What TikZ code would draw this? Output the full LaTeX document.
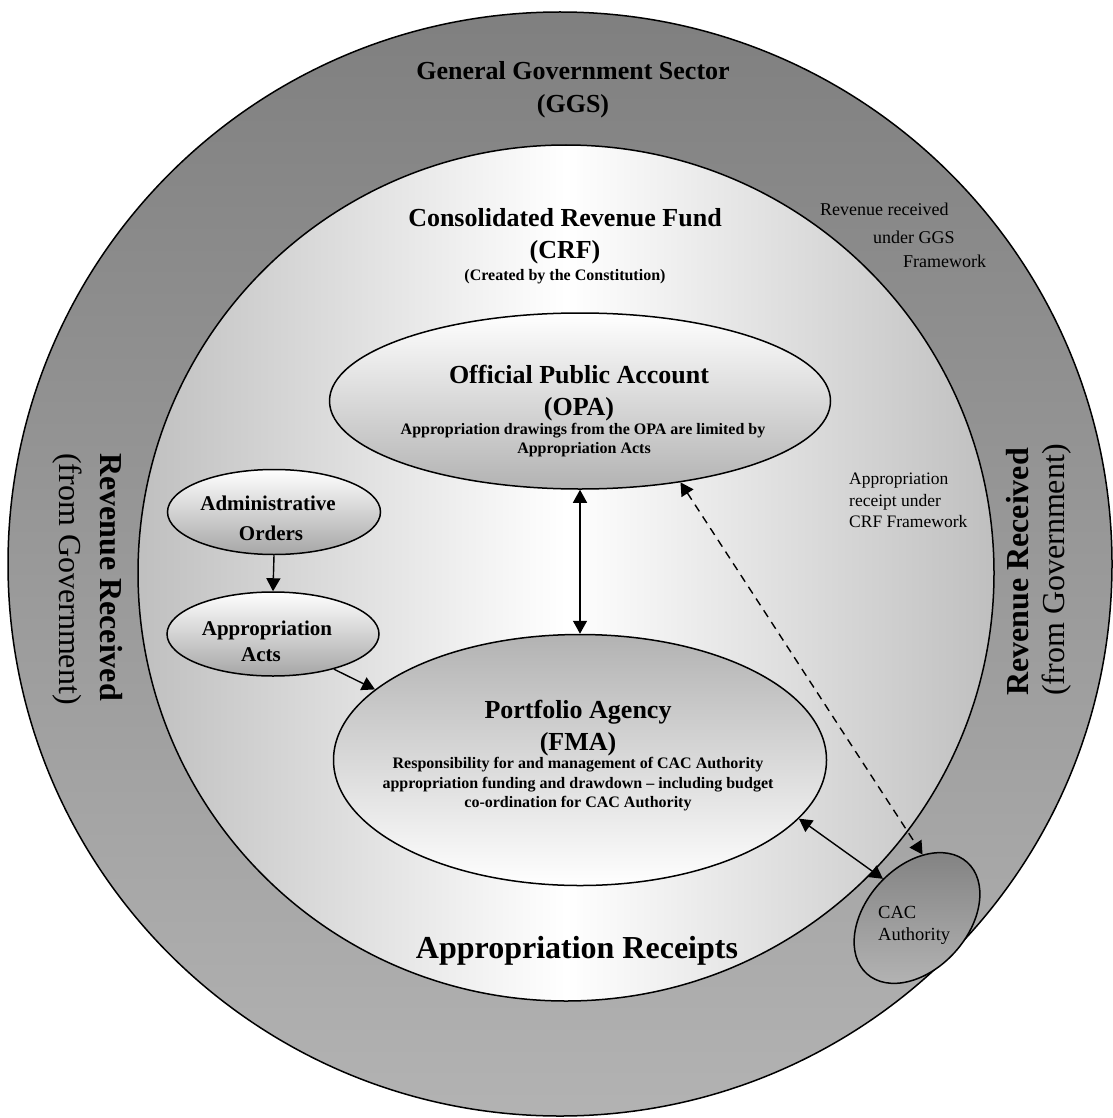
\documentclass[tikz,border=0pt]{standalone}
\usepackage{fontspec}
\setmainfont{Liberation Serif}
\usetikzlibrary{shapes.geometric,arrows.meta}
\begin{document}
\begin{tikzpicture}[x=1pt,y=-1pt,
  outline/.style={draw=black, line width=1.5pt},
  arr/.style={line width=1.4pt, -{Triangle[length=13pt,width=14pt]}},
  darr/.style={line width=1.4pt, {Triangle[length=13pt,width=14pt]}-{Triangle[length=13pt,width=14pt]}},
  oval/.style={ellipse, outline, inner sep=0pt},
  lbl/.style={inner sep=0pt, text=black, anchor=base},
  lblw/.style={inner sep=0pt, text=black, anchor=base west},
  hA/.style={font=\fontsize{26}{30}\selectfont\bfseries},
  hB/.style={font=\fontsize{16}{19}\selectfont\bfseries},
  hC/.style={font=\fontsize{21}{25}\selectfont\bfseries},
  hD/.style={font=\fontsize{32}{36}\selectfont\bfseries},
  rD/.style={font=\fontsize{32}{36}\selectfont},
  sm/.style={font=\fontsize{18}{22}\selectfont},
]
\useasboundingbox[fill=white] (0,0) rectangle (1112,1118);

% sectors
\node[circle, outline, minimum size=1104pt, inner sep=0pt, top color=gray, bottom color=gray!60] (ggs) at (560,564) {};
\node[circle, outline, minimum size=856pt, inner sep=0pt, left color=gray!50, right color=gray!50, middle color=white] (crf) at (566,573) {};

% ovals
\node[oval, minimum width=501pt, minimum height=176pt, top color=white, bottom color=gray!60] (opa) at (580,401) {};
\node[oval, minimum width=493pt, minimum height=251pt, top color=gray!60, bottom color=white] (fma) at (580,760) {};
\node[oval, minimum width=213pt, minimum height=85pt, top color=white, bottom color=gray!70] (admin) at (274,512) {};
\node[oval, minimum width=212pt, minimum height=84pt, top color=white, bottom color=gray!70] (acts) at (273,634) {};
\node[oval, minimum width=150pt, minimum height=102pt, rotate=48, top color=gray!100, bottom color=gray!60] (cac) at (917,918) {};

% texts: GGS
\node[lbl, hA] (t1) at (573,79.6) {General Government Sector};
\node[lbl, hA] (t2) at (573,112.6) {(GGS)};
% CRF
\node[lbl, hA] (t3) at (565,226.6) {Consolidated Revenue Fund};
\node[lbl, hA] (t4) at (565,258.6) {(CRF)};
\node[lbl, hB] (t5) at (565,280.3) {(Created by the Constitution)};
% OPA
\node[lbl, hA] (t6) at (579,383.6) {Official Public Account};
\node[lbl, hA] (t7) at (579,415.6) {(OPA)};
\node[lbl, hB] (t8) at (583,434.3) {Appropriation drawings from the OPA are limited by};
\node[lbl, hB] (t9) at (584,453.3) {Appropriation Acts};
% FMA
\node[lbl, hA] (t10) at (578,718.6) {Portfolio Agency};
\node[lbl, hA] (t11) at (578,750.6) {(FMA)};
\node[lbl, hB] (t12) at (578,768.3) {Responsibility for and management of CAC Authority};
\node[lbl, hB] (t13) at (578,788.3) {appropriation funding and drawdown -- including budget};
\node[lbl, hB] (t14) at (578,807.3) {co-ordination for CAC Authority};
% admin / acts
\node[lbl, hC] (t15) at (268,510.5) {Administrative};
\node[lbl, hC] (t16) at (271,540) {Orders};
\node[lbl, hC] (t17) at (267,635.5) {Appropriation};
\node[lbl, hC] (t18) at (261,661.5) {Acts};
% receipts
\node[lbl, hD] (t19) at (577,958.6) {Appropriation Receipts};
% side texts
\node[inner sep=0pt, hD, rotate=-90] (t20) at (111,577) {Revenue Received};
\node[inner sep=0pt, rD, rotate=-90] (t21) at (67,579) {(from Government)};
\node[inner sep=0pt, hD, rotate=90] (t22) at (1018,572) {Revenue Received};
\node[inner sep=0pt, rD, rotate=90] (t23) at (1057,570) {(from Government)};
% small labels
\node[lblw, sm] (t24) at (820,215) {Revenue received};
\node[lblw, sm] (t25) at (873,243) {under GGS};
\node[lblw, sm] (t26) at (903,267) {Framework};
\node[lblw, font=\fontsize{17.5}{21}\selectfont] (t27) at (849,484) {Appropriation};
\node[lblw, font=\fontsize{17.5}{21}\selectfont] (t28) at (849,506) {receipt under};
\node[lblw, font=\fontsize{17.5}{21}\selectfont] (t29) at (849,527) {CRF Framework};
\node[lblw, font=\fontsize{18.5}{22}\selectfont] (t30) at (878,918) {CAC};
\node[lblw, font=\fontsize{18.5}{22}\selectfont] (t31) at (878,940) {Authority};

% connectors
\draw[arr] (admin.south) -- (acts.north);
\draw[arr] (acts.-30) -- (fma.161);
\draw[darr] (opa.south) -- (fma.north);
\draw[darr, dash pattern=on 8pt off 6pt] (opa.-39) -- (cac.37.5);
\draw[darr] (fma.-15) -- (cac.83);
\end{tikzpicture}
\end{document}
